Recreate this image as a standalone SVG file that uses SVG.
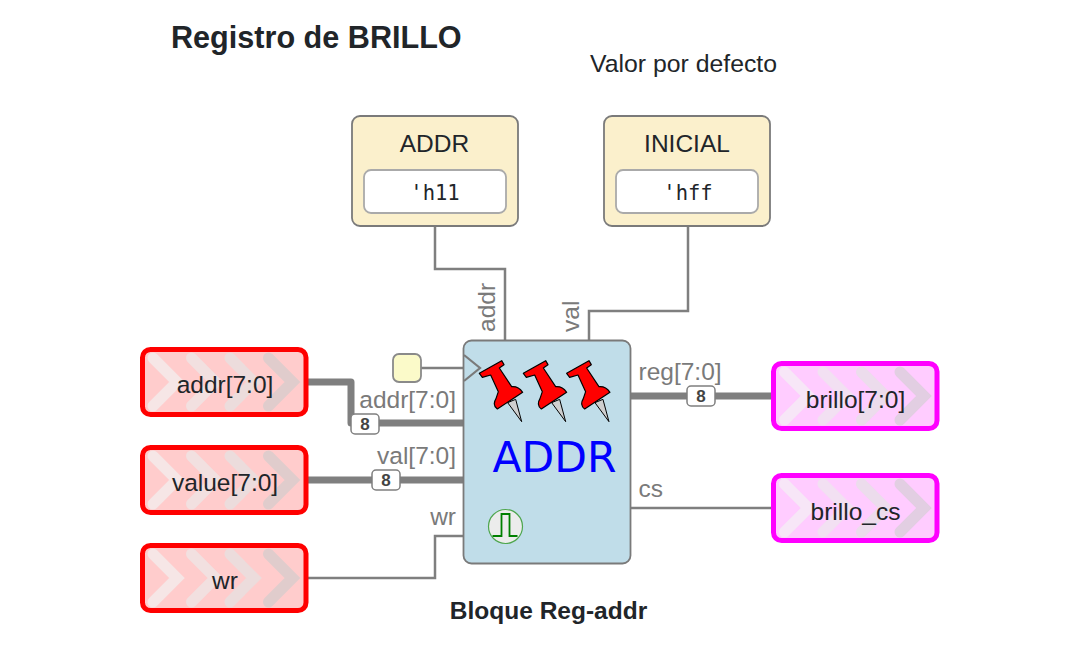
<svg xmlns="http://www.w3.org/2000/svg" width="1083" height="656" viewBox="0 0 1083 656">
<style>
text{font-family:"Liberation Sans",Arial,sans-serif}
.t{fill:#212529;font-size:24.500px;text-anchor:middle}
.lbl{fill:#7a7a7a;font-size:24.500px}
.in{fill:#ffcccc;stroke:#ff0000;stroke-width:5}
.out{fill:#ffccff;stroke:#ff00ff;stroke-width:5}
.w1{fill:none;stroke:#7f7f7f;stroke-width:2.5}
.w8{fill:none;stroke:#7f7f7f;stroke-width:7;stroke-linejoin:round}
.par{fill:#fbf0cc;stroke:#7a7a7a;stroke-width:1.8}
.val{fill:#fff;stroke:#aaa;stroke-width:1.8}
.mono{font-family:"DejaVu Sans Mono","Liberation Mono",monospace;font-size:20.500px;fill:#212529;text-anchor:middle}
.badge{fill:#fff;stroke:#7f7f7f;stroke-width:1.5}
.bt{font-size:17px;font-weight:bold;fill:#444;text-anchor:middle}
.ch{fill:none;stroke-width:11;stroke-linejoin:miter;stroke-linecap:round}
</style>
<defs>
<g id="chev">
<polyline class="ch" stroke="#f6e6e6" points="0,-24 24,0 0,24"/>
<polyline class="ch" stroke="#f2e0e0" points="38.500,-24 62.500,0 38.500,24"/>
<polyline class="ch" stroke="#ecdcdc" points="77,-24 101,0 77,24"/>
<polyline class="ch" stroke="#e0cccc" points="115.500,-24 139.500,0 115.500,24"/>
</g>
<g id="chevo">
<polyline class="ch" stroke="#f7e6f7" points="0,-24 24,0 0,24"/>
<polyline class="ch" stroke="#f2e0f2" points="38.500,-24 62.500,0 38.500,24"/>
<polyline class="ch" stroke="#ecdcec" points="77,-24 101,0 77,24"/>
<polyline class="ch" stroke="#e2cee2" points="115.500,-24 139.500,0 115.500,24"/>
</g>
<g id="pin" transform="scale(.3333)">
<polygon points="113,158 155,215 137,148" fill="#cfcfcf" stroke="#000" stroke-width="3" stroke-linejoin="round"/>
<path d="M28,70 L95,32 L102,44 L88,54 L125,110 Q145,108 158,127 L82,177 Q66,165 78,146 L85,125 L62,75 L37,82 Z" fill="#ff0000" stroke="#000" stroke-width="3.500" stroke-linejoin="round"/>
</g>
</defs>
<text x="171" y="47.500" font-size="30.600" font-weight="bold" fill="#212529">Registro de BRILLO</text>
<text x="590" y="72" font-size="24.800" fill="#212529">Valor por defecto</text>
<g id="connectors">
<polyline class="w1" points="435,227 435,269 505,269 505,340"/>
<polyline class="w1" points="688,227 688,311 589,311 589,340"/>
<polyline class="w8" points="308,382 351,382 351,423 463,423"/>
<polyline class="w8" points="308,480 463,480"/>
<polyline class="w1" points="308,578 435,578 435,536 463,536"/>
<polyline class="w1" points="421,368 463,368"/>
<polyline class="w8" points="631,396 772,396"/>
<polyline class="w1" points="631,508 772,508"/>
</g>
<g id="n-addr-param"><rect class="par" x="352" y="116" width="166" height="110" rx="8"/><text class="t" x="434.500" y="152">ADDR</text><rect class="val" x="364" y="170" width="142" height="43" rx="7"/><text class="mono" x="435" y="200">'h11</text></g>
<g id="n-inicial"><rect class="par" x="604" y="116" width="166" height="110" rx="8"/><text class="t" x="687" y="152">INICIAL</text><rect class="val" x="616" y="170" width="142" height="43" rx="7"/><text class="mono" x="688" y="200">'hff</text></g>
<g id="n-in-addr"><rect class="in" x="142.500" y="349.500" width="163.500" height="65" rx="8"/><use href="#chev" x="153" y="382"/><text class="t" x="225" y="393">addr[7:0]</text></g>
<g id="n-in-value"><rect class="in" x="142.500" y="447.500" width="163.500" height="65" rx="8"/><use href="#chev" x="153" y="480"/><text class="t" x="225" y="491">value[7:0]</text></g>
<g id="n-in-wr"><rect class="in" x="142.500" y="545.500" width="163.500" height="65" rx="8"/><use href="#chev" x="153" y="578"/><text class="t" x="225" y="589">wr</text></g>
<g id="n-clk"><rect x="393" y="354" width="28" height="28" rx="6" fill="#fbfac9" stroke="#8a8a8a" stroke-width="1.800"/></g>
<g id="n-reg">
<rect x="463.500" y="340.500" width="167" height="223" rx="8" fill="#c0dde9" stroke="#7a7a7a" stroke-width="1.800"/>
<polyline points="464,355 480,368 464,381" fill="none" stroke="#7a7a7a" stroke-width="2.200"/>
<use href="#pin" transform="translate(470,350)"/>
<use href="#pin" transform="translate(514,350)"/>
<use href="#pin" transform="translate(557.300,350)"/>
<text x="492.500" y="472" font-size="42.500" fill="#0000ff" style="font-family:'DejaVu Sans',sans-serif">ADDR</text>
<circle cx="505.500" cy="526.500" r="17" fill="#ececec" stroke="#4ea64e" stroke-width="1.200"/>
<polyline points="493,536 502,536 502,514 510,514 510,536 518,536" transform="translate(-.500,0)" fill="none" stroke="#008000" stroke-width="1.800"/>
</g>
<g id="n-out-brillo"><rect class="out" x="773.500" y="363.500" width="163.500" height="65" rx="8"/><use href="#chevo" x="784.500" y="396"/><text class="t" x="855.500" y="408">brillo[7:0]</text></g>
<g id="n-out-cs"><rect class="out" x="773.500" y="475.500" width="163.500" height="65" rx="8"/><use href="#chevo" x="784.500" y="508"/><text class="t" x="855.500" y="520">brillo_cs</text></g>
<g id="labels">
<text class="lbl" x="456" y="408" text-anchor="end">addr[7:0]</text>
<text class="lbl" x="456" y="464" text-anchor="end">val[7:0]</text>
<text class="lbl" x="456" y="525" text-anchor="end">wr</text>
<text class="lbl" x="638.500" y="380">reg[7:0]</text>
<text class="lbl" x="638.500" y="497">cs</text>
<text class="lbl" transform="translate(495,332) rotate(-90)">addr</text>
<text class="lbl" transform="translate(579,332) rotate(-90)">val</text>
</g>
<g id="badges">
<rect class="badge" x="351" y="414" width="28" height="20" rx="4"/><text class="bt" x="365" y="430">8</text>
<rect class="badge" x="372" y="470" width="28" height="20" rx="4"/><text class="bt" x="386" y="486">8</text>
<rect class="badge" x="687" y="386" width="28" height="20" rx="4"/><text class="bt" x="701" y="402">8</text>
</g>
<text x="548.500" y="619" font-size="24.500" font-weight="bold" fill="#212529" text-anchor="middle">Bloque Reg-addr</text>
</svg>
